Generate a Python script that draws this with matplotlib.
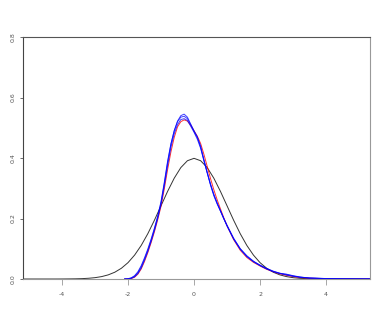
import numpy as np
import matplotlib
matplotlib.use("Agg")
import matplotlib.pyplot as plt

# standard normal reference curve (black)
nx = np.round(np.arange(-5.4, 5.41, 0.2), 1)
ny = [0.0000, 0.0000, 0.0000, 0.0000, 0.0000, 0.0000, 0.0000, 0.0001, 0.0003, 0.0006,
      0.0012, 0.0024, 0.0044, 0.0079, 0.0136, 0.0224, 0.0355, 0.0540, 0.0790, 0.1109,
      0.1497, 0.1942, 0.2420, 0.2897, 0.3332, 0.3683, 0.3910, 0.3989, 0.3910, 0.3683,
      0.3332, 0.2897, 0.2420, 0.1942, 0.1497, 0.1109, 0.0790, 0.0540, 0.0355, 0.0224,
      0.0136, 0.0079, 0.0044, 0.0024, 0.0012, 0.0006, 0.0003, 0.0001, 0.0000, 0.0000,
      0.0000, 0.0000, 0.0000, 0.0000, 0.0000]

# density estimates (red + 3 blue)
kx = [-2.1, -2.0, -1.9, -1.8, -1.7, -1.6, -1.5, -1.4, -1.3, -1.2, -1.1, -1.0, -0.9, -0.8,
      -0.7, -0.6, -0.5, -0.4, -0.3, -0.2, -0.1, 0.0, 0.1, 0.2, 0.3, 0.4, 0.5, 0.6, 0.7,
      0.8, 0.9, 1.0, 1.2, 1.4, 1.6, 1.8, 2.0, 2.2, 2.4, 2.6, 2.8, 3.0, 3.2, 3.5, 4.0,
      4.5, 5.0, 5.4]

red = [0, 0.0002, 0.0015, 0.006, 0.016, 0.033, 0.058, 0.087, 0.12, 0.156, 0.196, 0.24,
       0.298, 0.362, 0.42, 0.468, 0.503, 0.52, 0.526, 0.522, 0.508, 0.49, 0.472, 0.448,
       0.412, 0.372, 0.332, 0.295, 0.262, 0.232, 0.203, 0.176, 0.13, 0.095, 0.071, 0.055,
       0.043, 0.032, 0.024, 0.017, 0.012, 0.008, 0.005, 0.0025, 0.001, 0.0005, 0.0002, 0.0001]

blue1 = [0, 0.0005, 0.003, 0.009, 0.021, 0.040, 0.066, 0.095, 0.128, 0.165, 0.205, 0.252,
         0.315, 0.385, 0.445, 0.49, 0.522, 0.540, 0.545, 0.535, 0.512, 0.49, 0.47, 0.435,
         0.39, 0.35, 0.31, 0.275, 0.248, 0.225, 0.20, 0.178, 0.135, 0.100, 0.075, 0.057,
         0.044, 0.033, 0.024, 0.018, 0.015, 0.010, 0.006, 0.003, 0.0015, 0.0008, 0.0004, 0.0002]

blue2 = [0, 0.001, 0.004, 0.011, 0.024, 0.044, 0.070, 0.099, 0.132, 0.168, 0.208, 0.256,
         0.32, 0.39, 0.447, 0.49, 0.52, 0.535, 0.538, 0.53, 0.51, 0.488, 0.468, 0.44,
         0.395, 0.352, 0.312, 0.278, 0.25, 0.225, 0.2, 0.176, 0.133, 0.1, 0.077, 0.059,
         0.045, 0.034, 0.025, 0.019, 0.013, 0.009, 0.006, 0.0035, 0.0015, 0.0007, 0.0003, 0.0001]

blue3 = [0, 0.0003, 0.002, 0.007, 0.018, 0.036, 0.062, 0.091, 0.124, 0.16, 0.2, 0.246,
         0.308, 0.375, 0.435, 0.48, 0.51, 0.527, 0.53, 0.524, 0.505, 0.485, 0.462, 0.432,
         0.392, 0.352, 0.314, 0.28, 0.252, 0.226, 0.2, 0.175, 0.132, 0.098, 0.074, 0.058,
         0.046, 0.035, 0.026, 0.019, 0.016, 0.011, 0.007, 0.003, 0.0012, 0.0006, 0.0003, 0.0001]

xticks = [-4, -2, 0, 2, 4]
yticks = [0.0, 0.2, 0.4, 0.6, 0.8]

fig = plt.figure(figsize=(3.82, 3.27), dpi=100)
ax = fig.add_axes([23/382, 48/327, 347/382, 242/327])

ax.plot(nx, ny, color='#333333', lw=0.7)
ax.plot(kx, red, color='red', lw=0.7, alpha=0.8)
for b in (blue1, blue2, blue3):
    ax.plot(kx, b, color='blue', lw=0.7, alpha=0.75)

ax.set_xlim(-5.18, 5.33)
ax.set_ylim(0, 0.8)

ax.spines['left'].set_color('#444444')
ax.spines['top'].set_color('#555555')
ax.spines['right'].set_color('#999999')
ax.spines['bottom'].set_color('#999999')
for s in ax.spines.values():
    s.set_linewidth(0.8)

ax.set_xticks(xticks)
ax.set_xticklabels([str(t) for t in xticks])
ax.set_yticks(yticks)
ax.set_yticklabels(['%.1f' % t for t in yticks], rotation=90, va='center')
ax.tick_params(axis='x', length=4, width=0.6, color='#999999', labelsize=4.5,
               labelcolor='#555555', pad=5)
ax.tick_params(axis='y', length=2, width=0.6, color='#555555', labelsize=4.5,
               labelcolor='#555555', pad=3)

fig.savefig('out.png', dpi=100)
